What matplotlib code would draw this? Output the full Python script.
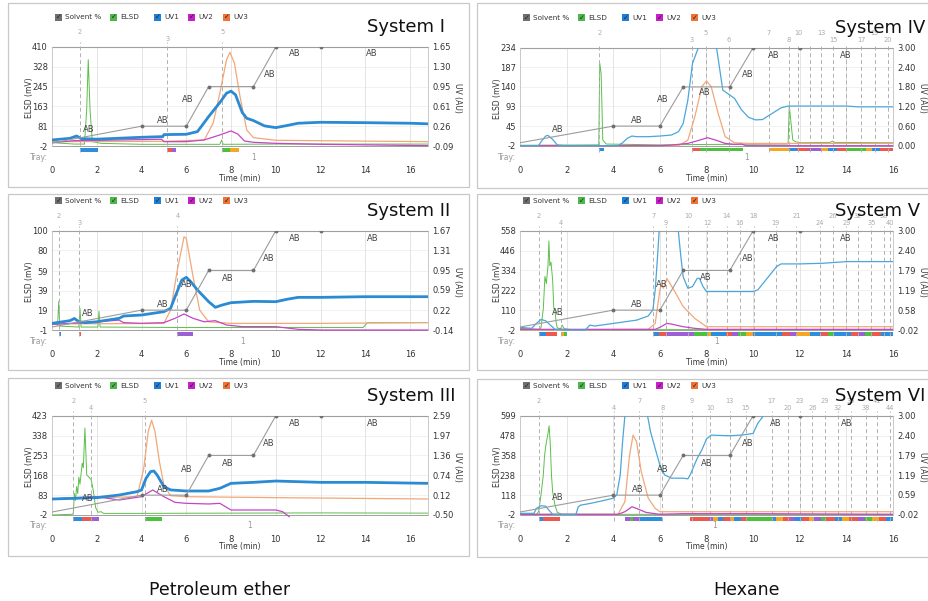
import matplotlib
matplotlib.use("Agg")
import matplotlib.pyplot as plt
import matplotlib.transforms as mtransforms
from matplotlib.patches import Rectangle

plt.rcParams['font.family'] = ['DejaVu Sans']

# ---------------- data (time in min; ELSD in mV; UV in AU; solvent in %) ----------------
solvent_time = [0, 4, 6, 7, 9, 10, 12, 16.8]
solvent_pct = [3, 20, 20, 60, 60, 100, 100, 100]
solvent_dots = [4, 6, 7, 9, 10, 12]

# System I (petroleum ether)
elsd_1 = [(0, 12), (0.5, 9), (1.0, 6), (1.45, 6), (1.55, 148), (1.62, 357), (1.7, 148), (1.8, 16),
          (2.2, 9), (4, 5), (6, 5), (7.5, 5), (7.58, 23), (7.65, 5), (10, 6), (16.8, 6)]
uv1_1 = [(0, 0.016), (0.8, 0.045), (1.1, 0.086), (1.3, 0.04), (2, 0.03), (4, 0.063), (4.95, 0.075),
         (5.0, 0.11), (6, 0.116), (6.5, 0.163), (7.0, 0.427), (7.5, 0.674), (7.8, 0.839), (8.0, 0.874),
         (8.2, 0.81), (8.5, 0.498), (8.7, 0.398), (9.0, 0.357), (9.5, 0.263), (10, 0.233), (10.5, 0.27),
         (11, 0.31), (12, 0.327), (14, 0.32), (16, 0.31), (16.8, 0.30)]
uv2_1 = [(0, -0.031), (1, 0.004), (3, 0.016), (4.9, 0.028), (5.0, -0.014), (6, -0.014), (6.8, 0.016),
         (7.5, 0.104), (8.0, 0.175), (8.3, 0.12), (8.6, -0.002), (9, -0.025), (10, -0.043), (12, -0.06),
         (16.8, -0.084)]
uv3_1 = [(0, -0.014), (5, -0.008), (6.8, 0.016), (7.2, 0.31), (7.5, 0.839), (7.8, 1.427), (7.95, 1.556),
         (8.15, 1.37), (8.4, 0.78), (8.7, 0.192), (9.0, 0.057), (10, 0.01), (16.8, -0.014)]
ab_1 = [(1.65, 17), (4.97, 26), (6.05, 47), (9.74, 72), (10.86, 93), (14.3, 93)]
frac_1 = [1.25, 5.15, 7.6]
fraclab_1 = ['2', '3', '5']
bars_1 = [(1.27, 2.05, 'b'), (5.15, 5.35, 'r'), (5.35, 5.55, 'p'), (7.6, 7.95, 'g'), (7.95, 8.35, 'o')]
tray_1 = 9.0

# System II
elsd_2 = [(0, 6), (0.25, 4), (0.3, 28), (0.35, 3), (1.2, 2), (1.25, 21), (1.3, 2), (2.05, 2), (2.1, 18),
          (2.15, 2), (6, 1.5), (10, 1.5), (13.9, 1.5), (14.1, 6.5), (16.8, 6.5)]
uv1_2 = [(0, -0.019), (0.8, 0.03), (1.0, 0.07), (1.2, 0.01), (1.5, -0.006), (2, 0.01), (3, 0.073),
         (3.2, 0.115), (4, 0.133), (5, 0.194), (5.3, 0.255), (5.5, 0.467), (5.8, 0.771), (6.0, 0.82),
         (6.2, 0.74), (6.5, 0.589), (7, 0.376), (7.3, 0.273), (7.6, 0.315), (8, 0.358), (9, 0.382),
         (10, 0.376), (10.5, 0.42), (11, 0.455), (12, 0.455), (14, 0.467), (16.8, 0.467)]
uv2_2 = [(0, -0.037), (1.5, -0.006), (2, 0.01), (3, 0.04), (3.2, -0.006), (4, -0.019), (5, -0.006),
         (5.5, 0.073), (5.9, 0.152), (6.3, 0.073), (6.8, 0.01), (7.3, 0.03), (7.8, -0.049), (8.5, -0.079),
         (10, -0.079), (11, -0.128), (12, -0.14), (16.8, -0.14)]
uv3_2 = [(0, -0.03), (5.0, -0.019), (5.3, 0.224), (5.6, 0.953), (5.9, 1.56), (6.0, 1.53), (6.3, 0.84),
         (6.6, 0.22), (7.0, 0.01), (8, -0.019), (12, -0.019), (16.8, -0.006)]
ab_2 = [(1.61, 17), (4.97, 26), (6.0, 46), (7.84, 52), (9.7, 72), (10.83, 92), (14.33, 92)]
frac_2 = [0.3, 1.22, 5.6]
fraclab_2 = ['2', '3', '4']
bars_2 = [(0.3, 0.42, 'b'), (1.2, 1.3, 'r'), (5.6, 6.3, 'p')]
tray_2 = 8.5

# System III
elsd_3 = [(0, -2), (0.9, 1), (0.95, 5), (1.0, 90), (1.05, 60), (1.1, 120), (1.15, 90), (1.2, 160),
          (1.25, 130), (1.35, 220), (1.4, 200), (1.47, 370), (1.52, 250), (1.55, 170), (1.65, 160),
          (1.75, 150), (1.85, 100), (1.95, 30), (2.05, 10), (2.2, 12), (2.3, 5), (4, 5), (8, 6),
          (12, 7), (16.8, 6)]
uv1_3 = [(0, -0.002), (1, 0.018), (2, 0.04), (3, 0.122), (3.8, 0.226), (4.0, 0.278), (4.2, 0.64),
         (4.4, 0.847), (4.55, 0.87), (4.7, 0.74), (5.0, 0.381), (5.3, 0.28), (6, 0.247), (7, 0.247),
         (7.5, 0.33), (8, 0.485), (9, 0.516), (10, 0.557), (12, 0.516), (14, 0.516), (16.8, 0.485)]
uv2_3 = [(0, -0.002), (1, 0.04), (2, 0.07), (3, -0.033), (4, 0.07), (4.5, 0.278), (5, 0.07),
         (5.5, -0.106), (6, -0.137), (7, -0.157), (7.5, -0.137), (8, -0.344), (10, -0.344),
         (10.3, -0.396), (10.6, -0.552)]
uv3_3 = [(0, 0.0), (3.8, 0.07), (4.1, 0.95), (4.3, 2.1), (4.45, 2.45), (4.6, 2.1), (4.8, 1.16),
         (5.0, 0.43), (5.3, 0.1), (6, 0.07), (10, 0.04), (16.8, -0.002)]
ab_3 = [(1.61, 17), (4.94, 26), (6.0, 46), (7.84, 52), (9.7, 72), (10.83, 92), (14.33, 92)]
frac_3 = [0.95, 1.75, 4.15]
fraclab_3 = ['2', '4', '5']
bars_3 = [(0.95, 1.35, 'b'), (1.35, 1.75, 'r'), (1.75, 2.1, 'p'), (4.15, 4.9, 'g')]
tray_3 = 8.84

# System IV (hexane)
elsd_4 = [(0, -1), (3.38, 0), (3.42, 197), (3.48, 172), (3.55, 12), (3.7, 2), (6, 0), (8, 1),
          (11.5, 2), (11.55, 94), (11.7, 12), (11.8, 8), (12, 5), (13.3, 6), (13.4, 9), (13.5, 6), (16, 5)]
uv1_4 = [(0, 0), (0.8, 0), (0.9, 0.12), (1.1, 0.296), (1.2, 0.316), (1.4, 0.194), (1.6, 0.02), (2, 0),
         (4.2, 0), (4.4, 0.09), (4.6, 0.224), (4.8, 0.296), (5, 0.276), (5.5, 0.276), (6, 0.296),
         (6.5, 0.327), (6.8, 0.43), (7.0, 0.68), (7.2, 1.4), (7.4, 2.52), (7.65, 3.0), (8.0, 3.6),
         (8.43, 3.0), (8.7, 1.7), (8.9, 1.6), (9.2, 1.45), (9.5, 1.1), (9.8, 0.87), (10.1, 0.79),
         (10.4, 0.8), (10.8, 0.98), (11.2, 1.16), (11.5, 1.214), (14, 1.214), (14.5, 1.19), (16, 1.19)]
uv2_4 = [(0, 0), (6, 0), (6.5, 0.02), (7.2, 0.07), (7.7, 0.17), (8.05, 0.245), (8.4, 0.17), (8.8, 0.07),
         (9.2, 0.04), (9.5, 0.05), (9.7, 0.0), (16, 0)]
uv3_4 = [(0, 0), (6.8, 0), (7.2, 0.17), (7.5, 0.888), (7.8, 1.81), (8.0, 1.98), (8.2, 1.81), (8.5, 0.99),
         (8.8, 0.276), (9.2, 0.09), (9.8, 0.07), (16, 0.07)]
ab_4 = [(1.64, 16.7), (5.0, 26), (6.11, 47), (7.93, 54), (9.76, 73), (10.89, 92.5), (13.97, 92.5)]
frac_4 = [3.4, 7.36, 7.96, 8.97, 10.67, 11.54, 11.93, 12.43, 12.93, 13.43, 14.0, 14.64, 15.21, 15.79]
fraclab_4 = ['2', '3', '5', '6', '7', '8', '10', '', '13', '15', '', '17', '19', '20']
bars_4 = [(3.4, 3.6, 'b'), (7.36, 7.7, 'r'), (7.7, 9.55, 'g'), (10.67, 11.54, 'o'), (11.54, 11.9, 'b'),
          (11.9, 12.4, 'r'), (12.4, 12.9, 'p'), (12.9, 13.2, 'o'), (13.2, 13.6, 'b'), (13.6, 14.0, 'r'),
          (14.0, 14.85, 'g'), (14.85, 15.1, 'o'), (15.1, 15.45, 'b'), (15.45, 16, 'r')]
tray_4 = 9.7

# System V
elsd_5 = [(0, 7), (0.8, 2), (0.9, 10), (1.0, 120), (1.07, 300), (1.13, 260), (1.2, 360), (1.24, 500),
          (1.28, 360), (1.33, 380), (1.4, 280), (1.45, 120), (1.5, 110), (1.55, 40), (1.6, 10),
          (1.75, 5), (1.8, 26), (1.9, 5), (2.2, 0), (16, 0)]
uv1_5 = [(0, 0.06), (0.5, 0.03), (0.7, 0.18), (0.9, 0.30), (1.1, 0.26), (1.3, 0.13), (1.5, 0.0),
         (2, -0.02), (2.8, -0.02), (3.0, 0.13), (3.2, 0.10), (3.5, 0.13), (4, 0.18), (5, 0.28),
         (5.5, 0.406), (5.7, 0.59), (5.8, 1.2), (5.9, 2.21), (5.97, 3.0), (6.3, 3.6), (6.79, 3.0),
         (6.9, 2.21), (7.0, 1.6), (7.2, 1.25), (7.4, 1.3), (7.6, 1.55), (7.7, 1.55), (7.85, 1.3),
         (8.0, 1.15), (10, 1.15), (10.2, 1.2), (10.6, 1.55), (11, 1.905), (11.2, 1.99), (12, 1.99),
         (13, 2.01), (14, 2.06), (16, 2.06)]
uv2_5 = [(0, 0), (5.8, 0), (6, 0.06), (6.3, 0.18), (6.5, 0.16), (7, 0.08), (7.5, 0.03), (8, 0), (16, 0)]
uv3_5 = [(0, -0.02), (5.5, 0), (5.8, 0.18), (6.0, 1.2), (6.07, 1.35), (6.15, 1.25), (6.3, 1.55),
         (6.6, 1.2), (7.0, 0.69), (7.5, 0.33), (8.0, 0.08), (16, 0.08)]
ab_5 = [(1.64, 17.4), (5.0, 26), (6.1, 46), (7.96, 52.7), (9.76, 72), (10.89, 92), (13.97, 92)]
frac_5 = [0.81, 1.74, 5.71, 6.26, 7.21, 8.03, 8.86, 9.43, 10.03, 10.97, 11.86, 12.86, 13.43, 14.0,
          14.5, 15.07, 15.6, 15.89]
fraclab_5 = ['2', '4', '7', '9', '10', '12', '14', '16', '18', '19', '21', '24', '26', '29', '32',
             '35', '38', '40']
bars_5 = [(0.81, 1.1, 'b'), (1.1, 1.6, 'r'), (1.74, 1.87, 'o'), (1.87, 2.0, 'g'),
          (5.71, 5.95, 'b'), (5.95, 6.25, 'r'), (6.25, 7.45, 'p'), (7.45, 8.05, 'g'), (8.05, 8.2, 'o'),
          (8.2, 8.85, 'b'), (8.85, 9.1, 'r'), (9.1, 9.35, 'p'), (9.35, 9.7, 'g'), (9.7, 10.0, 'o'),
          (10.0, 11.25, 'b'), (11.25, 11.6, 'r'), (11.6, 11.9, 'p'), (11.9, 12.45, 'o'),
          (12.45, 12.9, 'b'), (12.9, 13.2, 'r'), (13.2, 13.45, 'g'), (13.45, 14.2, 'b'),
          (14.2, 14.5, 'r'), (14.5, 14.8, 'p'), (14.8, 15.1, 'g'), (15.1, 15.5, 'r'), (15.5, 16, 'b')]
tray_5 = 8.43

# System VI
elsd_6 = [(0, 2), (0.7, 2), (0.8, 18), (0.9, 119), (1.0, 240), (1.05, 351), (1.1, 411), (1.15, 452),
          (1.2, 492), (1.25, 538), (1.3, 421), (1.35, 240), (1.4, 139), (1.5, 58), (1.6, 14), (1.8, 2),
          (16, 2)]
uv1_6 = [(0, 0.03), (0.6, 0.03), (0.7, 0.18), (0.9, 0.26), (1.1, 0.25), (1.2, 0.16), (1.4, 0.0),
         (2.4, 0.0), (2.5, 0.23), (2.6, 0.28), (3.0, 0.33), (3.5, 0.406), (4.0, 0.49), (4.15, 0.59),
         (4.3, 1.2), (4.4, 2.21), (4.5, 3.0), (4.9, 3.6), (5.47, 3.0), (5.6, 2.51), (5.8, 2.0),
         (6.0, 1.5), (6.2, 1.2), (6.5, 1.1), (7.0, 1.1), (7.2, 1.08), (7.3, 1.2), (7.6, 1.7),
         (7.8, 1.96), (8.0, 2.29), (8.2, 2.41), (9, 2.39), (9.5, 2.41), (10, 2.46), (10.2, 2.77),
         (10.45, 3.0), (10.6, 3.1), (16, 3.1)]
uv2_6 = [(0, 0), (4.2, 0), (4.5, 0.08), (4.8, 0.23), (5.0, 0.18), (5.4, 0.06), (6, 0), (7, 0.02),
         (10, 0.02), (16, 0)]
uv3_6 = [(0, 0), (4.2, 0), (4.5, 0.385), (4.7, 1.8), (4.85, 2.41), (5.0, 2.21), (5.2, 1.3), (5.5, 0.49),
         (5.8, 0.18), (6.0, 0.08), (16, 0.08)]
ab_6 = [(1.64, 17.4), (5.07, 26), (6.14, 46), (8.0, 52), (9.79, 72), (10.97, 92), (14.0, 92)]
frac_6 = [0.81, 4.03, 5.11, 6.11, 7.36, 8.17, 9.0, 9.69, 10.79, 11.5, 12.0, 12.54, 13.07, 13.64, 14.2,
          14.83, 15.31, 15.89]
fraclab_6 = ['2', '4', '7', '8', '9', '10', '13', '15', '17', '20', '23', '26', '29', '32', '35',
             '38', '41', '44']
bars_6 = [(0.81, 1.0, 'b'), (1.0, 1.7, 'r'), (4.5, 4.7, 'p'), (4.7, 4.85, 'g'), (4.85, 5.1, 'p'),
          (5.1, 6.1, 'b'), (7.31, 8.1, 'r'), (8.1, 8.3, 'p'), (8.3, 8.5, 'o'), (8.5, 8.7, 'b'),
          (8.7, 9.0, 'r'), (9.0, 9.2, 'o'), (9.2, 9.5, 'b'), (9.5, 9.7, 'r'), (9.7, 10.8, 'g'),
          (10.8, 11.0, 'b'), (11.0, 11.3, 'o'), (11.3, 11.6, 'r'), (11.6, 11.8, 'p'), (11.8, 12.1, 'b'),
          (12.1, 12.4, 'r'), (12.4, 12.6, 'o'), (12.6, 12.9, 'p'), (12.9, 13.1, 'g'), (13.1, 13.5, 'r'),
          (13.5, 13.8, 'b'), (13.8, 14.1, 'o'), (14.1, 14.5, 'r'), (14.5, 14.8, 'p'), (14.8, 15.1, 'g'),
          (15.1, 15.4, 'o'), (15.4, 15.7, 'r'), (15.7, 16, 'b')]
tray_6 = 8.36

elsd_ticks = {
    'I': ([-2, 81, 163, 245, 328, 410], ['-2', '81', '163', '245', '328', '410']),
    'II': ([-1, 19, 39, 59, 80, 100], ['-1', '19', '39', '59', '80', '100']),
    'III': ([-2, 83, 168, 253, 338, 423], ['-2', '83', '168', '253', '338', '423']),
    'IV': ([-2, 45, 93, 140, 187, 234], ['-2', '45', '93', '140', '187', '234']),
    'V': ([-2, 110, 222, 334, 446, 558], ['-2', '110', '222', '334', '446', '558']),
    'VI': ([-2, 118, 238, 358, 478, 599], ['-2', '118', '238', '358', '478', '599']),
}
uv_ticks = {
    'I': ([-0.09, 0.26, 0.61, 0.95, 1.30, 1.65], ['-0.09', '0.26', '0.61', '0.95', '1.30', '1.65']),
    'II': ([-0.14, 0.22, 0.59, 0.95, 1.31, 1.67], ['-0.14', '0.22', '0.59', '0.95', '1.31', '1.67']),
    'III': ([-0.50, 0.12, 0.74, 1.36, 1.97, 2.59], ['-0.50', '0.12', '0.74', '1.36', '1.97', '2.59']),
    'IV': ([0.0, 0.6, 1.2, 1.8, 2.4, 3.0], ['0.00', '0.60', '1.20', '1.80', '2.40', '3.00']),
    'V': ([-0.02, 0.58, 1.19, 1.79, 2.40, 3.00], ['-0.02', '0.58', '1.19', '1.79', '2.40', '3.00']),
    'VI': ([-0.02, 0.59, 1.19, 1.79, 2.40, 3.00], ['-0.02', '0.59', '1.19', '1.79', '2.40', '3.00']),
}

legend_names = ['Solvent %', 'ELSD', 'UV1', 'UV2', 'UV3']
legend_colors = ['#6f6f6f', '#4cb848', '#1f7fd4', '#c81fc8', '#ef7236']
bar_colors = {'b': '#2d8ee0', 'r': '#ec5a4f', 'p': '#9d5fd6', 'g': '#4cc13d', 'o': '#f5a623'}

# ---------------- drawing ----------------
W, H = 929, 601
fig = plt.figure(figsize=(W / 100, H / 100), dpi=100)


def px_rect(l, t, r, b):
    return [l / W, 1 - b / H, (r - l) / W, (b - t) / H]


def xy(pts):
    return [p[0] for p in pts], [p[1] for p in pts]


def draw_panel(name, box, geo, xmax, title_x, elsd, uv1, uv2, uv3, ab, frac, fraclab, bars, tray,
               uv1_style):
    l, r, top, base, bot = geo
    span = bot - top
    fig.add_artist(Rectangle((box[0] / W, 1 - box[3] / H), (box[2] - box[0]) / W, (box[3] - box[1]) / H,
                             transform=fig.transFigure, fill=False, ec='#c8c8c8', lw=0.9))
    k = (bot - base) / (base - top)

    ax = fig.add_axes(px_rect(l, top, r, bot))
    et, el = elsd_ticks[name]
    lo, hi = et[0], et[-1]
    ax.set_xlim(0, xmax)
    ax.set_ylim(lo - k * (hi - lo), hi)
    for s in ax.spines.values():
        s.set_visible(False)
    ax.set_yticks(et, el)
    ax.set_xticks(range(0, 17, 2))
    ax.tick_params(length=0, labelsize=6, colors='#333333', pad=3)
    ax.tick_params(axis='x', pad=4)
    for y in et[1:-1]:
        ax.plot([0, xmax], [y, y], color='#efefef', lw=0.6, zorder=0)
    for x in range(2, int(xmax) + 1, 2):
        ax.plot([x, x], [lo, hi], color='#e0e0e0', lw=0.6, zorder=0)
    ax.plot([0, xmax], [lo, lo], color='#a0a0a0', lw=0.7, clip_on=False)
    ax.plot([0, xmax], [hi, hi], color='#a0a0a0', lw=0.8, clip_on=False)
    ax.plot([0, 0], [lo, hi], color='#c0c0c0', lw=0.6, clip_on=False)
    ax.plot([xmax, xmax], [lo, hi], color='#c0c0c0', lw=0.6, clip_on=False)

    ax.plot(*xy(elsd), color='#5cbf4a', lw=0.7)

    trans = mtransforms.blended_transform_factory(ax.transData, ax.transAxes)
    for i, (t, lab) in enumerate(zip(frac, fraclab)):
        ax.plot([t, t], [8 / span, 1 + 5 / span], transform=trans, color='#b0b0b0', lw=0.7,
                ls=(0, (4, 3)), clip_on=False)
        dy = 15 if i % 2 == 0 else 8
        ax.text(t, 1 + dy / span, lab, transform=trans, ha='center', va='center', fontsize=4.8,
                color='#aaaaaa')
    yb = (bot - base - 5.5) / span
    for t0, t1, c in bars:
        ax.add_patch(Rectangle((t0, yb), t1 - t0, 3.5 / span, transform=trans, color=bar_colors[c],
                               lw=0, clip_on=False))
    ax.text(-0.012, 3 / span, 'Tray:', transform=ax.transAxes, ha='right', va='center', fontsize=5.5,
            color='#999999')
    ax.text(tray, 3 / span, '1', transform=trans, ha='center', va='center', fontsize=5.5, color='#999999')

    ax.text(0.5, -18 / span, 'Time (min)', transform=ax.transAxes, ha='center', va='center', fontsize=5.5,
            color='#333333')
    ax.text(-22 / (r - l), 0.55, 'ELSD (mV)', transform=ax.transAxes, ha='center', va='center',
            rotation=90, fontsize=5.5, color='#333333')
    ax.text(1 + 30 / (r - l), 0.55, 'UV (AU)', transform=ax.transAxes, ha='center', va='center',
            rotation=270, fontsize=5.5, color='#333333')

    ax2 = ax.twinx()
    ut, ul = uv_ticks[name]
    ulo, uhi = ut[0], ut[-1]
    ax2.set_ylim(ulo - k * (uhi - ulo), uhi)
    for s in ax2.spines.values():
        s.set_visible(False)
    ax2.set_yticks(ut, ul)
    ax2.tick_params(length=0, labelsize=6, colors='#333333', pad=3)
    ax2.plot(*xy(uv3), color='#f2a779', lw=0.9)
    ax2.plot(*xy(uv2), color='#c545c5', lw=0.9)
    ax2.plot(*xy(uv1), **uv1_style)

    ax3 = ax.twinx()
    ax3.set_ylim(-k * 100, 100)
    ax3.axis('off')
    ax3.plot(solvent_time, solvent_pct, color='#9c9c9c', lw=0.8)
    dots = [solvent_pct[solvent_time.index(t)] for t in solvent_dots]
    ax3.plot(solvent_dots, dots, 'o', ms=1.8, color='#707070')
    for t, p in ab:
        ax3.text(t, p, 'AB', ha='center', va='center', fontsize=6, color='#444444')

    # legend row
    ly = top - 30
    for off, nm, c in zip([3, 58, 102, 136, 171], legend_names, legend_colors):
        fig.add_artist(Rectangle(((l + off) / W, 1 - (ly + 3.5) / H), 7 / W, 7 / H,
                                 transform=fig.transFigure, color=c, lw=0))
        fig.text((l + off + 3.5) / W, 1 - ly / H, '\u2713', fontsize=5, ha='center', va='center',
                 color='#222222')
        fig.text((l + off + 10) / W, 1 - ly / H, nm, fontsize=5.2, ha='left', va='center', color='#333333')

    fig.text(title_x / W, 1 - (top - 20) / H, 'System ' + name, fontsize=13, ha='left', va='center',
             color='#111111')


thick = dict(color='#2a8ad4', lw=2.0)
thin = dict(color='#4ba6da', lw=0.9)

draw_panel('I', (8, 3, 469, 187), (52, 428, 47, 146, 160), 16.8, 367,
           elsd_1, uv1_1, uv2_1, uv3_1, ab_1, frac_1, fraclab_1, bars_1, tray_1, thick)
draw_panel('II', (8, 194, 469, 370), (52, 428, 230.7, 330, 344), 16.8, 367,
           elsd_2, uv1_2, uv2_2, uv3_2, ab_2, frac_2, fraclab_2, bars_2, tray_2, thick)
draw_panel('III', (8, 378, 469, 556), (52, 428, 415.7, 515, 529), 16.8, 367,
           elsd_3, uv1_3, uv2_3, uv3_3, ab_3, frac_3, fraclab_3, bars_3, tray_3, thick)
draw_panel('IV', (477, 3, 935, 188), (520, 893, 47.7, 145.7, 160), 16, 835,
           elsd_4, uv1_4, uv2_4, uv3_4, ab_4, frac_4, fraclab_4, bars_4, tray_4, thin)
draw_panel('V', (477, 194, 935, 370), (520, 893, 230.7, 330, 344), 16, 835,
           elsd_5, uv1_5, uv2_5, uv3_5, ab_5, frac_5, fraclab_5, bars_5, tray_5, thin)
draw_panel('VI', (477, 379, 935, 557), (520, 893, 415.7, 515, 529), 16, 835,
           elsd_6, uv1_6, uv2_6, uv3_6, ab_6, frac_6, fraclab_6, bars_6, tray_6, thin)

fig.text(220 / W, 1 - 590 / H, 'Petroleum ether', fontsize=12.5, ha='center', va='center', color='#111111')
fig.text(747 / W, 1 - 590 / H, 'Hexane', fontsize=12.5, ha='center', va='center', color='#111111')

fig.savefig('out.png', dpi=100, facecolor='white')
